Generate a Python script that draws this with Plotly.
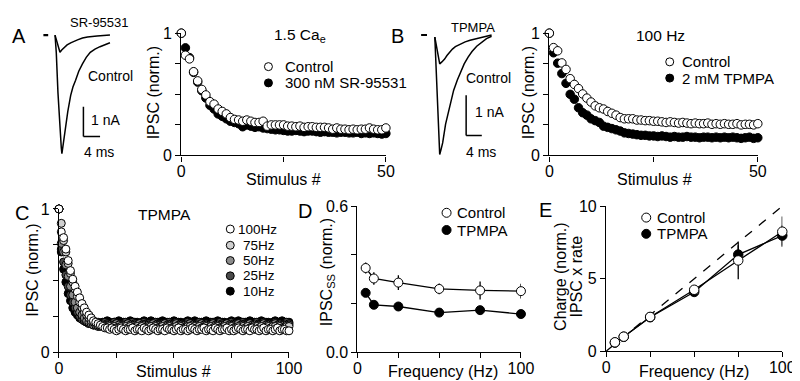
import plotly.graph_objects as go

W, H = 800, 381
FONT = "Arial, Liberation Sans, sans-serif"

# ---------------- DATA ----------------
# Panel A inset: example IPSC traces (time in ms, current in nA)
a_ctrl_t = [0, 0.3, 0.7, 1.0, 1.3, 1.5, 1.65, 1.8, 2.12, 2.6, 3.06, 3.76, 4.3, 4.94,
            5.7, 6.59, 7.5, 8.47, 9.6, 10.8, 12.0, 13.2]
a_ctrl_i = [0, -0.6, -1.94, -2.8, -3.4, -3.8, -4.0, -3.85, -3.45, -3.0, -2.58, -2.03, -1.75, -1.52,
            -1.22, -0.97, -0.75, -0.58, -0.47, -0.39, -0.32, -0.26]
a_sr_t = [0, 0.4, 0.8, 1.18, 1.6, 2.1, 2.9, 3.76, 4.6, 5.4, 6.6, 7.8, 10.1, 13.2]
a_sr_i = [0, -0.2, -0.45, -0.58, -0.5, -0.42, -0.33, -0.26, -0.2, -0.16, -0.1, -0.06, -0.03, 0.0]

# Panel B inset
b_ctrl_t = [0, 0.3, 0.6, 0.9, 1.25, 1.6, 2.0, 2.75, 3.4, 4.0, 4.8, 5.75, 6.6, 7.5, 8.5, 9.5,
            10.7, 12.0, 13.2, 14.5]
b_ctrl_i = [0, -0.8, -1.6, -2.35, -2.93, -2.8, -2.64, -2.17, -1.88, -1.62, -1.33, -1.07, -0.86,
            -0.67, -0.5, -0.36, -0.23, -0.12, -0.04, 0.02]
b_tp_t = [0, 0.4, 0.8, 1.25, 1.8, 2.5, 3.1, 3.75, 4.5, 5.25, 6.5, 7.75, 9.0, 10.25, 12.5, 14.5]
b_tp_i = [0, -0.2, -0.45, -0.67, -0.62, -0.55, -0.46, -0.38, -0.3, -0.24, -0.17, -0.12, -0.08,
          -0.05, 0.0, 0.05]

# Panels A & B: normalized IPSC vs stimulus number
stim_ab = list(range(0, 51))
a_control = [1.0, 0.82, 0.79, 0.685, 0.61, 0.54, 0.495, 0.44, 0.42, 0.38,
             0.36, 0.34, 0.31, 0.295, 0.29, 0.28, 0.29, 0.28, 0.27, 0.27,
             0.28, 0.24, 0.25, 0.25, 0.25, 0.25, 0.24, 0.24, 0.235, 0.24,
             0.23, 0.235, 0.235, 0.23, 0.23, 0.23, 0.225, 0.215, 0.225, 0.215,
             0.215, 0.21, 0.215, 0.21, 0.215, 0.215, 0.225, 0.215, 0.21, 0.21,
             0.225]
a_sr = [1.0, 0.88, 0.80, 0.68, 0.60, 0.53, 0.47, 0.41, 0.38, 0.34,
        0.32, 0.30, 0.28, 0.27, 0.26, 0.235, 0.25, 0.24, 0.23, 0.235,
        0.225, 0.22, 0.215, 0.21, 0.21, 0.205, 0.20, 0.20, 0.205, 0.20,
        0.195, 0.20, 0.20, 0.195, 0.19, 0.195, 0.19, 0.19, 0.185, 0.19,
        0.19, 0.185, 0.185, 0.19, 0.18, 0.185, 0.18, 0.185, 0.18, 0.175,
        0.18]
b_control = [1.0, 0.882, 0.856, 0.757, 0.704, 0.628, 0.581, 0.547, 0.503, 0.469,
             0.437, 0.406, 0.39, 0.38, 0.36, 0.345, 0.33, 0.31, 0.30, 0.30,
             0.30, 0.29, 0.29, 0.285, 0.285, 0.28, 0.28, 0.275, 0.27, 0.275,
             0.27, 0.265, 0.27, 0.265, 0.26, 0.265, 0.26, 0.26, 0.265, 0.255,
             0.26, 0.255, 0.26, 0.255, 0.255, 0.26, 0.25, 0.255, 0.255, 0.25,
             0.26]
b_tpmpa = [1.0, 0.84, 0.755, 0.67, 0.59, 0.50, 0.46, 0.39, 0.35, 0.33,
           0.30, 0.285, 0.27, 0.24, 0.23, 0.22, 0.21, 0.20, 0.185, 0.18,
           0.175, 0.17, 0.165, 0.165, 0.16, 0.16, 0.155, 0.16, 0.155, 0.15,
           0.155, 0.15, 0.15, 0.155, 0.15, 0.15, 0.145, 0.15, 0.15, 0.145,
           0.15, 0.145, 0.15, 0.145, 0.15, 0.145, 0.14, 0.145, 0.15, 0.14,
           0.145]

# Panel C: TPMPA at different frequencies
stim_c = list(range(0, 101))
c_100hz = [1.00, 0.84, 0.80, 0.72, 0.64, 0.57, 0.51, 0.46, 0.42, 0.38,
           0.34, 0.31, 0.28, 0.26, 0.24, 0.22, 0.21, 0.20, 0.19, 0.18,
           0.17, 0.17, 0.16, 0.17, 0.16, 0.15, 0.16, 0.17, 0.16, 0.15,
           0.16, 0.16, 0.17, 0.15, 0.16, 0.16, 0.15, 0.17, 0.16, 0.15,
           0.16, 0.17, 0.16, 0.15, 0.16, 0.16, 0.15, 0.17, 0.16, 0.16,
           0.15, 0.16, 0.17, 0.15, 0.16, 0.16, 0.15, 0.16, 0.17, 0.16,
           0.15, 0.16, 0.16, 0.17, 0.15, 0.16, 0.16, 0.15, 0.17, 0.16,
           0.15, 0.16, 0.16, 0.17, 0.15, 0.16, 0.15, 0.16, 0.17, 0.16,
           0.15, 0.16, 0.16, 0.15, 0.17, 0.16, 0.16, 0.15, 0.16, 0.17,
           0.15, 0.16, 0.16, 0.15, 0.16, 0.17, 0.15, 0.16, 0.16, 0.15,
           0.15]
c_75hz = [1.00, 0.90, 0.78, 0.70, 0.62, 0.55, 0.49, 0.44, 0.39, 0.35,
          0.31, 0.28, 0.26, 0.24, 0.22, 0.21, 0.20, 0.19, 0.19, 0.18,
          0.18, 0.17, 0.18, 0.17, 0.18, 0.17, 0.17, 0.18, 0.17, 0.18,
          0.17, 0.18, 0.17, 0.17, 0.18, 0.17, 0.18, 0.17, 0.17, 0.18,
          0.18, 0.17, 0.18, 0.17, 0.17, 0.18, 0.17, 0.18, 0.18, 0.17,
          0.17, 0.18, 0.17, 0.18, 0.17, 0.17, 0.18, 0.18, 0.17, 0.18,
          0.17, 0.18, 0.17, 0.17, 0.18, 0.17, 0.18, 0.17, 0.18, 0.18,
          0.17, 0.17, 0.18, 0.17, 0.18, 0.18, 0.17, 0.17, 0.18, 0.17,
          0.18, 0.17, 0.18, 0.17, 0.17, 0.18, 0.18, 0.17, 0.18, 0.17,
          0.17, 0.18, 0.17, 0.18, 0.18, 0.17, 0.18, 0.17, 0.17, 0.18,
          0.18]
c_50hz = [1.00, 0.76, 0.70, 0.61, 0.53, 0.46, 0.40, 0.35, 0.31, 0.28,
          0.26, 0.24, 0.22, 0.21, 0.20, 0.19, 0.19, 0.18, 0.18, 0.19,
          0.18, 0.19, 0.19, 0.18, 0.19, 0.20, 0.19, 0.18, 0.19, 0.19,
          0.20, 0.19, 0.18, 0.19, 0.19, 0.20, 0.19, 0.19, 0.18, 0.19,
          0.19, 0.20, 0.19, 0.18, 0.19, 0.19, 0.20, 0.19, 0.19, 0.18,
          0.19, 0.20, 0.19, 0.19, 0.18, 0.19, 0.19, 0.20, 0.19, 0.18,
          0.19, 0.19, 0.20, 0.19, 0.19, 0.18, 0.19, 0.20, 0.19, 0.19,
          0.18, 0.19, 0.19, 0.20, 0.19, 0.18, 0.19, 0.19, 0.20, 0.19,
          0.19, 0.18, 0.19, 0.20, 0.19, 0.19, 0.18, 0.19, 0.19, 0.20,
          0.19, 0.19, 0.18, 0.19, 0.20, 0.19, 0.19, 0.18, 0.19, 0.19,
          0.19]
c_25hz = [1.00, 0.72, 0.63, 0.54, 0.46, 0.40, 0.35, 0.31, 0.28, 0.25,
          0.23, 0.22, 0.21, 0.20, 0.20, 0.19, 0.20, 0.19, 0.20, 0.20,
          0.21, 0.20, 0.19, 0.20, 0.21, 0.20, 0.20, 0.19, 0.20, 0.21,
          0.20, 0.20, 0.21, 0.20, 0.19, 0.20, 0.20, 0.21, 0.20, 0.20,
          0.19, 0.20, 0.21, 0.20, 0.20, 0.20, 0.19, 0.20, 0.21, 0.20,
          0.20, 0.21, 0.20, 0.19, 0.20, 0.20, 0.21, 0.20, 0.20, 0.19,
          0.20, 0.21, 0.20, 0.20, 0.20, 0.19, 0.20, 0.21, 0.20, 0.20,
          0.21, 0.20, 0.19, 0.20, 0.20, 0.21, 0.20, 0.20, 0.19, 0.20,
          0.21, 0.20, 0.20, 0.20, 0.19, 0.20, 0.21, 0.20, 0.20, 0.21,
          0.20, 0.19, 0.20, 0.20, 0.21, 0.20, 0.20, 0.19, 0.20, 0.21,
          0.20]
c_10hz = [1.00, 0.70, 0.58, 0.49, 0.41, 0.36, 0.31, 0.28, 0.26, 0.24,
          0.23, 0.22, 0.21, 0.21, 0.20, 0.21, 0.20, 0.21, 0.20, 0.21,
          0.21, 0.22, 0.21, 0.20, 0.21, 0.21, 0.22, 0.21, 0.21, 0.20,
          0.21, 0.22, 0.21, 0.21, 0.21, 0.20, 0.21, 0.22, 0.21, 0.21,
          0.22, 0.21, 0.20, 0.21, 0.21, 0.22, 0.21, 0.21, 0.20, 0.21,
          0.22, 0.21, 0.21, 0.21, 0.20, 0.21, 0.22, 0.21, 0.21, 0.22,
          0.21, 0.20, 0.21, 0.21, 0.22, 0.21, 0.21, 0.20, 0.21, 0.22,
          0.21, 0.21, 0.21, 0.20, 0.21, 0.22, 0.21, 0.21, 0.22, 0.21,
          0.20, 0.21, 0.21, 0.22, 0.21, 0.21, 0.20, 0.21, 0.22, 0.21,
          0.21, 0.21, 0.20, 0.21, 0.22, 0.21, 0.21, 0.22, 0.21, 0.20,
          0.21]
c_series = [("10Hz", c_10hz, "#000000"), ("25Hz", c_25hz, "#4a4a4a"),
            ("50Hz", c_50hz, "#8c8c8c"), ("75Hz", c_75hz, "#cfcfcf"),
            ("100Hz", c_100hz, "#ffffff")]

# Panels D & E: vs stimulation frequency
freq = [5, 10, 25, 50, 75, 100]
d_control = [0.346, 0.303, 0.286, 0.260, 0.254, 0.251]
d_control_err = [0.023, 0.026, 0.030, 0.022, 0.037, 0.030]
d_tpmpa = [0.244, 0.195, 0.188, 0.163, 0.173, 0.157]
d_tpmpa_err = [0.010, 0.008, 0.008, 0.008, 0.010, 0.008]
e_control = [0.62, 1.01, 2.37, 4.24, 6.26, 8.24]
e_control_err = [0.08, 0.08, 0.12, 0.18, 1.30, 1.05]
e_tpmpa = [0.60, 1.00, 2.35, 4.09, 6.66, 7.97]
e_tpmpa_err = [0.06, 0.06, 0.10, 0.15, 0.65, 0.70]
e_unity_x = [0, 100]
e_unity_y = [0, 10]


# ---------------- HELPERS ----------------
def pxx(x):
    return x / W


def pxy(y):
    return 1 - y / H


def dom_x(a, b):
    return [a / W, b / W]


def dom_y(top, bottom):
    return [1 - bottom / H, 1 - top / H]


def axis(domain, rng, tickvals, ticktext, anchor, minor_dtick, standoff=0):
    return dict(domain=domain, range=rng, tickvals=tickvals, ticktext=ticktext,
                anchor=anchor, showline=True, linecolor="black", linewidth=1.3,
                ticks="outside", ticklen=5, tickwidth=1.3, tickcolor="black",
                ticklabelstandoff=standoff,
                minor=dict(ticks="outside", ticklen=5, tickwidth=1.3, tickcolor="black",
                           tick0=0, dtick=minor_dtick, showgrid=False),
                showgrid=False, zeroline=False, fixedrange=True,
                tickfont=dict(family=FONT, size=16, color="black"))


def hidden_axis(domain, rng, anchor):
    # an axis that only provides the scale for the inset traces
    return dict(domain=domain, range=rng, anchor=anchor, showline=False,
                showticklabels=False, ticks="", tickvals=[],
                showgrid=False, zeroline=False, fixedrange=True)


def txt(x, y, s, size=16, xanchor="center", angle=0):
    return dict(x=pxx(x), y=pxy(y), xref="paper", yref="paper", text=s,
                showarrow=False, xanchor=xanchor, yanchor="middle",
                textangle=angle, font=dict(family=FONT, size=size, color="black"))


def dot(x, y, fill, d=8):
    return dict(type="circle", xref="paper", yref="paper",
                xsizemode="pixel", ysizemode="pixel",
                xanchor=pxx(x), yanchor=pxy(y),
                x0=-d / 2, x1=d / 2, y0=-d / 2, y1=d / 2,
                fillcolor=fill, line=dict(color="black", width=1))


def seg(xref, yref, x0, y0, x1, y1, w=1.5):
    return dict(type="line", xref=xref, yref=yref, x0=x0, y0=y0, x1=x1, y1=y1,
                line=dict(color="black", width=w))


fig = go.Figure()

# Insets (traces)
for tx, iy, xa, ya in [(a_ctrl_t, a_ctrl_i, "x6", "y6"), (a_sr_t, a_sr_i, "x6", "y6"),
                       (b_ctrl_t, b_ctrl_i, "x7", "y7"), (b_tp_t, b_tp_i, "x7", "y7")]:
    fig.add_trace(go.Scatter(x=tx, y=iy, mode="lines", line=dict(color="black", width=1.5),
                             xaxis=xa, yaxis=ya, showlegend=False))


def mk(fill, size):
    return dict(symbol="circle", size=size, color=fill, line=dict(color="black", width=1))


# Panel A
fig.add_trace(go.Scatter(x=stim_ab, y=a_sr, mode="markers", marker=mk("black", 8.5),
                         xaxis="x", yaxis="y", cliponaxis=False, showlegend=False))
fig.add_trace(go.Scatter(x=stim_ab, y=a_control, mode="markers", marker=mk("white", 8.5),
                         xaxis="x", yaxis="y", cliponaxis=False, showlegend=False))
# Panel B
fig.add_trace(go.Scatter(x=stim_ab, y=b_tpmpa, mode="markers", marker=mk("black", 8.5),
                         xaxis="x2", yaxis="y2", cliponaxis=False, showlegend=False))
fig.add_trace(go.Scatter(x=stim_ab, y=b_control, mode="markers", marker=mk("white", 8.5),
                         xaxis="x2", yaxis="y2", cliponaxis=False, showlegend=False))
# Panel C
for name, vals, col in c_series:
    fig.add_trace(go.Scatter(x=stim_c, y=vals, mode="markers", marker=mk(col, 8), name=name,
                             xaxis="x3", yaxis="y3", cliponaxis=False, showlegend=False))
# Panel D
fig.add_trace(go.Scatter(x=freq, y=d_tpmpa, mode="lines+markers", marker=mk("black", 9),
                         line=dict(color="black", width=1.3),
                         error_y=dict(type="data", array=d_tpmpa_err, color="black", thickness=1.3, width=0),
                         xaxis="x4", yaxis="y4", cliponaxis=False, showlegend=False))
fig.add_trace(go.Scatter(x=freq, y=d_control, mode="lines+markers", marker=mk("white", 9),
                         line=dict(color="black", width=1.3),
                         error_y=dict(type="data", array=d_control_err, color="black", thickness=1.3, width=0),
                         xaxis="x4", yaxis="y4", cliponaxis=False, showlegend=False))
# Panel E
fig.add_trace(go.Scatter(x=e_unity_x, y=e_unity_y, mode="lines",
                         line=dict(color="black", width=1.3, dash="dash"),
                         xaxis="x5", yaxis="y5", cliponaxis=False, showlegend=False))
fig.add_trace(go.Scatter(x=freq, y=e_tpmpa, mode="lines+markers", marker=mk("black", 9.5),
                         line=dict(color="black", width=1.3),
                         error_y=dict(type="data", array=e_tpmpa_err, color="black", thickness=1.3, width=0),
                         xaxis="x5", yaxis="y5", cliponaxis=False, showlegend=False))
fig.add_trace(go.Scatter(x=freq, y=e_control, mode="lines+markers", marker=mk("white", 9.5),
                         line=dict(color="black", width=1.3),
                         error_y=dict(type="data", array=e_control_err, color="black", thickness=1.3, width=0),
                         xaxis="x5", yaxis="y5", cliponaxis=False, showlegend=False))

yA = dom_y(18, 146)
fig.update_layout(
    width=W, height=H, margin=dict(l=0, r=0, t=0, b=0),
    paper_bgcolor="white", plot_bgcolor="white", showlegend=False,
    xaxis=axis(dom_x(173, 382), [0, 50], [0, 50], ["0", "50"], "y", 25, -4),
    yaxis=axis(yA, [0, 1], [0, 1], ["0", "1"], "x", 0.25),
    xaxis2=axis(dom_x(549, 762), [0, 50], [0, 50], ["0", "50"], "y2", 25, -4),
    yaxis2=axis(yA, [0, 1], [0, 1], ["0", "1"], "x2", 0.25),
    xaxis3=axis(dom_x(48, 283), [0, 100], [0, 100], ["0", "100"], "y3", 25, -4),
    yaxis3=axis(dom_y(202, 352), [0, 1], [0, 1], ["0", "1"], "x3", 0.25),
    xaxis4=axis(dom_x(353, 520), [0, 100], [0, 100], ["0", "100"], "y4", 25, -4),
    yaxis4=axis(dom_y(199, 352), [0, 0.6], [0, 0.6], ["0.0", "0.6"], "x4", 0.2),
    xaxis5=axis(dom_x(607, 787), [0, 100], [0, 100], ["0", "100"], "y5", 25, -4),
    yaxis5=axis(dom_y(199, 351), [0, 10], [0, 5, 10], ["0", "5", "10"], "x5", 5),
    xaxis6=hidden_axis(dom_x(28, 130), [-3.76, 20.24], "y6"),
    yaxis6=hidden_axis(dom_y(0, 150), [-4.19, 0.645], "x6"),
    xaxis7=hidden_axis(dom_x(405, 530), [-6.75, 24.5], "y7"),
    yaxis7=hidden_axis(dom_y(0, 150), [-3.048, 0.524], "x7"),
)

shapes = [
    # stimulus dashes and scale bars of inset traces
    seg("x6", "y6", -2.8, 0, -1.65, 0, 2.2),
    seg("x6", "y6", 6.82, -2.42, 6.82, -3.42),
    seg("x6", "y6", 6.82, -3.42, 10.82, -3.42),
    seg("x7", "y7", -3.5, 0.05, -2.0, 0.05, 2.2),
    seg("x7", "y7", 8, -1.452, 8, -2.452),
    seg("x7", "y7", 8, -2.452, 12, -2.452),
    # legend symbols
    dot(262, 53, "white"), dot(262, 70, "black"),
    dot(672, 48, "white"), dot(672, 65, "black"),
    dot(223, 223, "white"), dot(223, 240, "#cfcfcf"), dot(223, 256, "#8c8c8c"),
    dot(223, 272, "#4a4a4a"), dot(223, 288, "black"),
    dot(444, 206, "white", 9), dot(444, 224, "black", 9),
    dot(648, 211, "white", 9), dot(648, 228, "black", 9),
]

L = "left"
ann = [
    # panel letters
    txt(7, 21, "A", 20), txt(394, 21, "B", 20), txt(10, 206, "C", 20),
    txt(299, 204, "D", 20), txt(545, 203, "E", 20),
    # inset labels
    txt(89, 7, "SR-95531", 13), txt(101, 63, "Control", 14),
    txt(79, 109, "1 nA", 14, L), txt(72, 142, "4 ms", 14, L),
    txt(471, 12, "TPMPA", 13), txt(487, 65, "Control", 14),
    txt(471, 100, "1 nA", 14, L), txt(462, 142, "4 ms", 14, L),
    # panel A
    txt(266, 20, "1.5 Ca<sub>e</sub>", 15.5, L),
    txt(277, 53, "Control", 15, L), txt(277, 70, "300 nM SR-95531", 15, L),
    txt(145, 80, "IPSC (norm.)", 16, angle=-90), txt(277, 171, "Stimulus #", 16),
    # panel B
    txt(663, 20, "100 Hz", 15.5),
    txt(682, 48, "Control", 15, L), txt(682, 65, "2 mM TPMPA", 15, L),
    txt(528, 80, "IPSC (norm.)", 16, angle=-90), txt(656, 171, "Stimulus #", 16),
    # panel C
    txt(156, 208, "TPMPA", 15.5),
    txt(229, 223, "100Hz", 13.5, L), txt(234, 240, "75Hz", 13.5, L),
    txt(234, 256, "50Hz", 13.5, L), txt(234, 272, "25Hz", 13.5, L),
    txt(234, 288, "10Hz", 13.5, L),
    txt(21, 266, "IPSC (norm.)", 16, angle=-90), txt(165, 372, "Stimulus #", 16),
    # panel D
    txt(453, 206, "Control", 15, L), txt(453, 224, "TPMPA", 15, L),
    txt(322, 268, "IPSC<sub>SS</sub> (norm.)", 16, angle=-90),
    txt(440, 372, "Frequency (Hz)", 16),
    # panel E
    txt(657, 211, "Control", 15, L), txt(657, 228, "TPMPA", 15, L),
    txt(561, 273, "Charge (norm.)", 16, angle=-90),
    txt(577, 273, "IPSC x rate", 16, angle=-90),
    txt(697, 372, "Frequency (Hz)", 16),
]

fig.update_layout(shapes=shapes, annotations=ann)
fig.write_html("out.html")
